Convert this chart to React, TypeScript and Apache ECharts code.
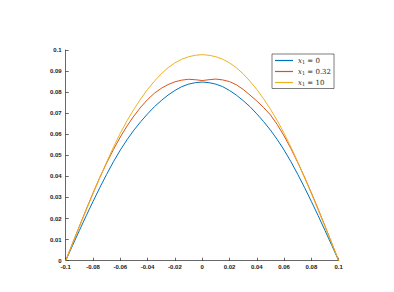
import React, { useEffect, useRef } from "react";
import * as echarts from "echarts";

const xValues = [
  -0.1, -0.095, -0.09, -0.085, -0.08, -0.075, -0.07, -0.065, -0.06, -0.055, -0.05,
  -0.045, -0.04, -0.035, -0.03, -0.025, -0.02, -0.015, -0.01, -0.005, 0,
  0.005, 0.01, 0.015, 0.02, 0.025, 0.03, 0.035, 0.04, 0.045, 0.05,
  0.055, 0.06, 0.065, 0.07, 0.075, 0.08, 0.085, 0.09, 0.095, 0.1,
];

const seriesNames = ["0", "0.32", "10"];

const blueValues = [
  0, 0.0072, 0.0143, 0.0213, 0.0281, 0.0347, 0.041, 0.047, 0.0525, 0.0575, 0.062,
  0.066, 0.0697, 0.0731, 0.076, 0.0786, 0.0808, 0.0826, 0.0838, 0.0845, 0.0848,
  0.0845, 0.0838, 0.0826, 0.0808, 0.0786, 0.076, 0.0731, 0.0697, 0.066, 0.062,
  0.0575, 0.0525, 0.047, 0.041, 0.0347, 0.0281, 0.0213, 0.0143, 0.0072, 0,
];

const redValues = [
  0, 0.0082, 0.0163, 0.0243, 0.0321, 0.0395, 0.0464, 0.0528, 0.0587, 0.064, 0.0687,
  0.0729, 0.0765, 0.0795, 0.0818, 0.0836, 0.0849, 0.0857, 0.0861, 0.0859, 0.0855,
  0.0859, 0.0862, 0.0858, 0.085, 0.0835, 0.0813, 0.0786, 0.0758, 0.0727, 0.0692,
  0.0646, 0.0592, 0.0532, 0.0466, 0.0396, 0.0322, 0.0244, 0.0164, 0.0082, 0,
];

const yellowValues = [
  0, 0.0081, 0.0161, 0.024, 0.0318, 0.0394, 0.0468, 0.0539, 0.0605, 0.0665, 0.0719,
  0.0768, 0.0813, 0.0852, 0.0887, 0.0916, 0.0939, 0.0956, 0.0968, 0.0975, 0.0978,
  0.0975, 0.0968, 0.0956, 0.0939, 0.0916, 0.0887, 0.0852, 0.0813, 0.0768, 0.0719,
  0.0665, 0.0605, 0.0539, 0.0468, 0.0394, 0.0318, 0.024, 0.0161, 0.0081, 0,
];

const colors = ["#0072BD", "#D95319", "#EDB120"];

function fmt(v: number): string {
  return String(parseFloat(v.toFixed(3)));
}

export default function App() {
  const ref = useRef<HTMLDivElement>(null);
  useEffect(() => {
    document.body.style.margin = "0";
    if (!ref.current) return;
    const chart = echarts.init(ref.current, undefined, { renderer: "svg" });
    const allValues = [blueValues, redValues, yellowValues];
    const names = seriesNames.map((v) => `x1 = ${v}`);
    chart.setOption({
      animation: false,
      backgroundColor: "#ffffff",
      grid: { left: 65.7, right: 55.3, top: 50, bottom: 31.3, containLabel: false },
      legend: {
        left: 272,
        top: 54,
        orient: "vertical",
        icon: "rect",
        itemWidth: 18,
        itemHeight: 1.2,
        itemGap: 3.5,
        padding: [3, 3, 2, 3],
        borderColor: "#262626",
        borderWidth: 0.6,
        backgroundColor: "#ffffff",
        data: names,
        formatter: (name: string) => {
          const idx = names.indexOf(name);
          return `{i|x}{s|1}{t| = ${seriesNames[idx]}}`;
        },
        textStyle: {
          color: "#262626",
          fontFamily: "DejaVu Serif",
          fontSize: 7,
          rich: {
            i: { fontFamily: "DejaVu Serif", fontStyle: "italic", fontSize: 7, color: "#262626" },
            s: { fontFamily: "DejaVu Serif", fontSize: 5, color: "#262626", padding: [3, 0, 0, 0] },
            t: { fontFamily: "DejaVu Serif", fontSize: 7, color: "#262626" },
          },
        },
      },
      xAxis: {
        type: "value",
        min: -0.1,
        max: 0.1,
        interval: 0.02,
        axisLine: { show: true, onZero: false, lineStyle: { color: "#262626", width: 0.7 } },
        axisTick: { show: true, inside: true, length: 3, lineStyle: { color: "#262626", width: 0.7 } },
        splitLine: { show: false },
        axisLabel: {
          color: "#1a1a1a",
          fontSize: 6,
          fontWeight: "bold",
          fontFamily: "Liberation Sans",
          margin: 3,
          formatter: (v: number) => fmt(v),
        },
      },
      yAxis: {
        type: "value",
        min: 0,
        max: 0.1,
        interval: 0.01,
        axisLine: { show: true, onZero: false, lineStyle: { color: "#262626", width: 0.7 } },
        axisTick: { show: true, inside: true, length: 3, lineStyle: { color: "#262626", width: 0.7 } },
        splitLine: { show: false },
        axisLabel: {
          color: "#1a1a1a",
          fontSize: 6,
          fontWeight: "bold",
          fontFamily: "Liberation Sans",
          margin: 4,
          formatter: (v: number) => fmt(v),
        },
      },
      series: allValues.map((vals, i) => ({
        name: names[i],
        type: "line",
        symbol: "none",
        showSymbol: false,
        color: colors[i],
        lineStyle: { color: colors[i], width: 1 },
        data: xValues.map((x, j) => [x, vals[j]]),
      })),
    });
    return () => chart.dispose();
  }, []);
  return <div ref={ref} style={{ width: 394, height: 292 }} />;
}
